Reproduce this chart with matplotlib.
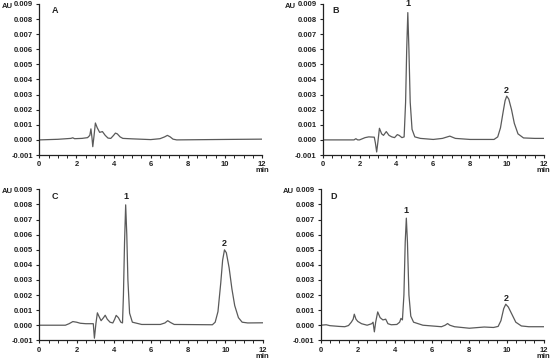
import matplotlib
matplotlib.use("Agg")
import matplotlib.pyplot as plt
from matplotlib.ticker import MultipleLocator, FormatStrFormatter

plt.rcParams['font.family'] = ['Liberation Sans', 'DejaVu Sans']
plt.rcParams['font.weight'] = 'bold'

# chromatogram traces (time in min, absorbance in AU)
t_a = [0, 1.0, 1.7, 1.8, 1.9, 2.3, 2.6, 2.72, 2.78, 2.84, 2.88, 2.95, 3.02, 3.12, 3.25, 3.4,
       3.55, 3.7, 3.85, 4.0, 4.1, 4.2, 4.35, 4.5, 5.0, 6.0, 6.5, 6.75, 6.9, 7.05, 7.2, 7.4, 10, 12]
y_a = [0.0, 0.00004, 0.0001, 0.00014, 0.00008, 0.0001, 0.00015, 0.0003, 0.00073, 0.0001, -0.00045,
       0.0003, 0.00112, 0.0008, 0.0005, 0.00055, 0.0003, 0.00012, 0.0001, 0.0003, 0.00045, 0.0004,
       0.0002, 0.0001, 0.00007, 0.00002, 0.00008, 0.0002, 0.0003, 0.0002, 0.00005, 0.0, 0.00003, 0.00005]

t_b = [0, 1.7, 1.8, 1.9, 2.0, 2.3, 2.5, 2.8, 2.86, 2.93, 3.0, 3.08, 3.2, 3.3, 3.45, 3.6, 3.75,
       3.9, 4.05, 4.15, 4.3, 4.42, 4.5, 4.56, 4.62, 4.68, 4.75, 4.85, 5.0, 5.3, 6.0, 6.5, 6.9, 7.2,
       8.0, 9.3, 9.5, 9.65, 9.8, 9.9, 9.99, 10.1, 10.25, 10.4, 10.6, 10.9, 11.5, 12]
y_b = [0.0, 0.0, 0.00008, 0.0, 0.0, 0.00015, 0.0002, 0.00018, -0.0002, -0.0008, -0.0001, 0.00077,
       0.0004, 0.0003, 0.00055, 0.0003, 0.0002, 0.00015, 0.00035, 0.0003, 0.00015, 0.0002, 0.0025,
       0.006, 0.00843, 0.006, 0.0025, 0.0007, 0.0002, 0.0001, 0.00003, 0.0001, 0.00025, 0.0001,
       0.00003, 0.00003, 0.0002, 0.0008, 0.0019, 0.0026, 0.0029, 0.0027, 0.002, 0.0011, 0.0004,
       0.00013, 0.0001, 0.0001]

t_c = [0, 1.4, 1.6, 1.8, 2.0, 2.2, 2.5, 2.9, 2.96, 3.04, 3.12, 3.2, 3.32, 3.45, 3.54, 3.65, 3.8,
       3.95, 4.05, 4.13, 4.25, 4.38, 4.47, 4.52, 4.58, 4.64, 4.7, 4.76, 4.85, 5.0, 5.5, 6.5, 6.75,
       6.9, 7.05, 7.25, 9.3, 9.45, 9.6, 9.75, 9.85, 9.95, 10.05, 10.2, 10.35, 10.5, 10.7, 10.9,
       11.2, 12]
y_c = [0.0, 0.0, 0.0001, 0.00024, 0.0002, 0.00013, 0.0001, 0.0001, -0.00086, 0.0001, 0.00082,
       0.0006, 0.0003, 0.0005, 0.00066, 0.0004, 0.0002, 0.00015, 0.0004, 0.00065, 0.0005, 0.0002,
       0.00015, 0.002, 0.0055, 0.00797, 0.006, 0.003, 0.0008, 0.0002, 0.00005, 0.00005, 0.00015,
       0.0003, 0.00018, 0.00005, 0.00003, 0.0002, 0.0009, 0.0028, 0.0043, 0.00499, 0.0048, 0.0038,
       0.0024, 0.0013, 0.0005, 0.0002, 0.00015, 0.00016]

t_d = [0, 0.3, 0.5, 1.0, 1.3, 1.5, 1.65, 1.75, 1.81, 1.9, 2.0, 2.2, 2.5, 2.75, 2.82, 2.89, 2.96,
       3.07, 3.2, 3.35, 3.5, 3.62, 3.8, 4.1, 4.25, 4.32, 4.4, 4.48, 4.55, 4.61, 4.67, 4.75, 4.85,
       5.0, 5.5, 6.0, 6.5, 6.7, 6.83, 6.95, 7.2, 8.0, 8.8, 9.3, 9.55, 9.7, 9.85, 9.96, 10.1, 10.3,
       10.5, 10.8, 11.2, 12]
y_d = [0.0, 0.00003, -0.00003, -0.00008, -0.0001, -0.00002, 0.0002, 0.0004, 0.00073, 0.0004,
       0.00025, 0.0001, 0.0, 0.0001, 0.0002, -0.00044, 0.0002, 0.00088, 0.0005, 0.00035, 0.0004,
       0.0001, 0.00003, 0.00005, 0.0002, 0.00045, 0.00035, 0.002, 0.0055, 0.00709, 0.0055, 0.002,
       0.0006, 0.0002, 0.0, -0.00005, -0.0001, 0.0, 0.00011, 0.0, -0.0001, -0.0002, -0.00012,
       -0.00015, -0.00008, 0.0003, 0.0011, 0.00139, 0.0012, 0.0007, 0.0002, -0.00005, -0.0001,
       -0.0001]

panels = ['A', 'B', 'C', 'D']
traces = [(t_a, y_a), (t_b, y_b), (t_c, y_c), (t_d, y_d)]
# peak labels: (name, time, height of label)
peak_labels = [[],
               [('1', 4.62, 0.0090), ('2', 9.97, 0.0033)],
               [('1', 4.64, 0.0085), ('2', 9.95, 0.0054)],
               [('1', 4.61, 0.0076), ('2', 9.96, 0.0018)]]

fig = plt.figure(figsize=(5.5, 3.63), dpi=100)
positions = [[0.0715, 0.573, 0.405, 0.416],
             [0.5867, 0.573, 0.402, 0.416],
             [0.0715, 0.0625, 0.406, 0.416],
             [0.583, 0.0625, 0.4055, 0.416]]

line_col = '#5a5a5a'
for i in range(4):
    ax = fig.add_axes(positions[i])
    t, y = traces[i]
    ax.plot(t, y, color=line_col, lw=0.9)
    ax.set_xlim(0, 12)
    ax.set_ylim(-0.001, 0.009)
    ax.xaxis.set_major_locator(MultipleLocator(2))
    ax.xaxis.set_minor_locator(MultipleLocator(0.5))
    ax.yaxis.set_major_locator(MultipleLocator(0.001))
    ax.yaxis.set_major_formatter(FormatStrFormatter('%.3f'))
    for s in ['top', 'right']:
        ax.spines[s].set_visible(False)
    for s in ['left', 'bottom']:
        ax.spines[s].set_linewidth(0.9)
        ax.spines[s].set_color('#222222')
    ax.tick_params(axis='both', which='major', labelsize=5.5, length=2.5, width=0.8,
                   pad=2, colors='#222222')
    ax.tick_params(axis='x', which='minor', length=2, width=0.7, colors='#222222')
    for lab in ax.get_xticklabels() + ax.get_yticklabels():
        lab.set_fontweight('bold')
    ax.text(0.84 if i % 2 == 0 else 0.72, 0.00855, panels[i], fontsize=6.5,
            fontweight='bold', ha='center', va='center', color='#222222')
    for name, xp, yp in peak_labels[i]:
        ax.text(xp, yp, name, fontsize=6.5, fontweight='bold', ha='center', va='center',
                color='#222222')
    ax.text(-0.145, 0.985, 'AU', transform=ax.transAxes, fontsize=5.5, fontweight='bold',
            ha='center', va='center', color='#222222')
    ax.text(1.0, -0.105, 'min', transform=ax.transAxes, fontsize=5.5, fontweight='bold',
            ha='center', va='center', color='#222222')

fig.savefig('out.png', dpi=100)
